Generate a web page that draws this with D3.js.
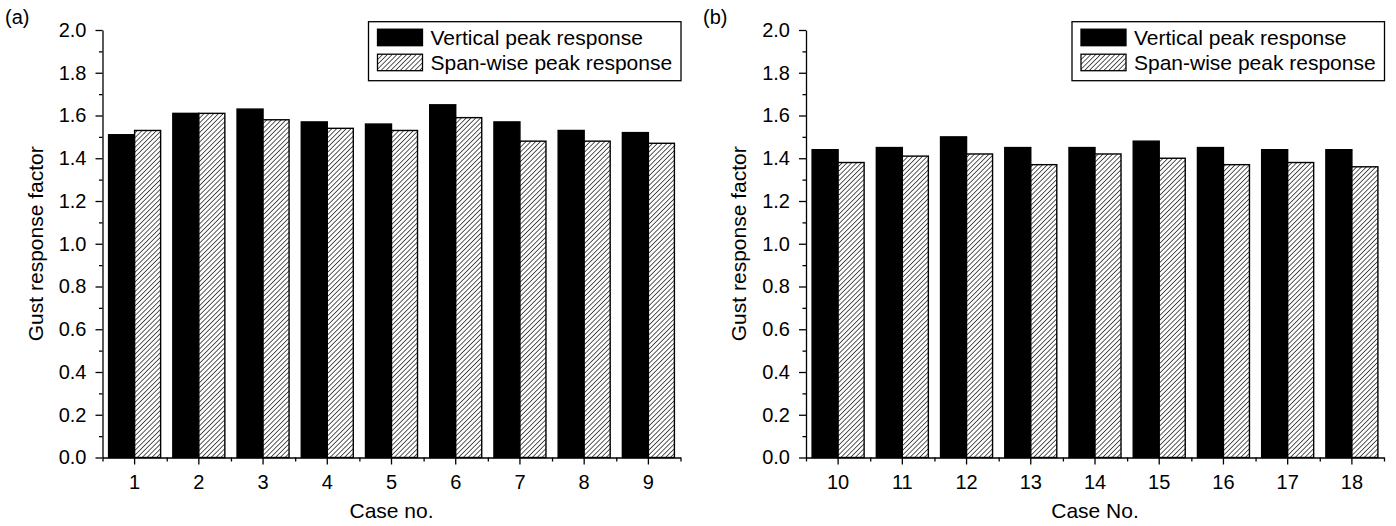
<!DOCTYPE html>
<html>
<head>
<meta charset="utf-8">
<script src="https://cdn.jsdelivr.net/npm/d3@7"></script>
<style>
  body { margin: 0; background: #fff; }
  svg text { font-family: "Liberation Sans", Arial, Helvetica, sans-serif; fill: #000; }
</style>
</head>
<body>
<svg id="chart"></svg>
<script>
// data
var seriesNames = ["Vertical peak response", "Span-wise peak response"];

var casesA = ["1", "2", "3", "4", "5", "6", "7", "8", "9"];
var verticalA = [1.51, 1.61, 1.63, 1.57, 1.56, 1.65, 1.57, 1.53, 1.52];
var spanwiseA = [1.53, 1.61, 1.58, 1.54, 1.53, 1.59, 1.48, 1.48, 1.47];

var casesB = ["10", "11", "12", "13", "14", "15", "16", "17", "18"];
var verticalB = [1.44, 1.45, 1.50, 1.45, 1.45, 1.48, 1.45, 1.44, 1.44];
var spanwiseB = [1.38, 1.41, 1.42, 1.37, 1.42, 1.40, 1.37, 1.38, 1.36];

var yTicks = [0.0, 0.2, 0.4, 0.6, 0.8, 1.0, 1.2, 1.4, 1.6, 1.8, 2.0];
var yMinorTicks = [0.1, 0.3, 0.5, 0.7, 0.9, 1.1, 1.3, 1.5, 1.7, 1.9];

var width = 1396, height = 526;

var svg = d3.select("#chart")
  .attr("width", width)
  .attr("height", height);

// hatch pattern  ////
svg.append("defs").append("pattern")
  .attr("id", "hatch")
  .attr("patternUnits", "userSpaceOnUse")
  .attr("width", 3.4)
  .attr("height", 3.4)
  .attr("patternTransform", "rotate(45)")
  .call(function (p) {
    p.append("rect").attr("width", 3.4).attr("height", 3.4).attr("fill", "#fff");
    p.append("line")
      .attr("x1", 0).attr("y1", 0).attr("x2", 0).attr("y2", 3.4)
      .attr("stroke", "#000").attr("stroke-width", 1.3);
  });

var fills = ["#000", "url(#hatch)"];

var y = d3.scaleLinear()
  .domain([0, 2])
  .range([457.5, 30]);

function drawPanel(opt) {
  var g = svg.append("g");

  var x = d3.scaleBand()
    .domain(opt.cases)
    .range([opt.x0, opt.x1])
    .paddingInner(0.19)
    .paddingOuter(0.095);

  var x1 = d3.scaleBand()
    .domain(d3.range(seriesNames.length))
    .range([0, x.bandwidth()]);

  // minor tick positions between the cases
  var xm = d3.scaleLinear()
    .domain([0, opt.cases.length])
    .range([opt.x0, opt.x1]);

  var rows = opt.cases.map(function (c, i) {
    return { c: c, v: [opt.vertical[i], opt.spanwise[i]] };
  });

  // bars
  var grp = g.selectAll(".grp")
    .data(rows)
    .enter().append("g")
    .attr("class", "grp")
    .attr("transform", function (d) { return "translate(" + x(d.c) + ",0)"; });

  grp.selectAll("rect")
    .data(function (d) { return d.v; })
    .enter().append("rect")
    .attr("x", function (d, i) { return x1(i); })
    .attr("y", function (d) { return y(d); })
    .attr("width", x1.bandwidth())
    .attr("height", function (d) { return y(0) - y(d); })
    .attr("fill", function (d, i) { return fills[i]; })
    .attr("stroke", "#000")
    .attr("stroke-width", 1.4);

  // y axis
  g.append("g")
    .attr("transform", "translate(" + opt.x0 + ",0)")
    .call(d3.axisLeft(y).tickValues(yMinorTicks).tickSize(3.5).tickFormat("").tickSizeOuter(0))
    .call(function (a) { a.select(".domain").remove(); });

  var ya = g.append("g")
    .attr("transform", "translate(" + opt.x0 + ",0)")
    .call(d3.axisLeft(y).tickValues(yTicks).tickSize(7).tickPadding(9).tickSizeOuter(0)
      .tickFormat(d3.format(".1f")));
  ya.selectAll("text").style("font-size", "20px");

  // x axis
  g.append("g")
    .attr("transform", "translate(0," + y(0) + ")")
    .call(d3.axisBottom(xm).tickValues(d3.range(opt.cases.length + 1)).tickSize(4).tickFormat("").tickSizeOuter(0))
    .call(function (a) { a.select(".domain").remove(); });

  var xa = g.append("g")
    .attr("transform", "translate(0," + y(0) + ")")
    .call(d3.axisBottom(x).tickSize(7).tickPadding(10.5).tickSizeOuter(0));
  xa.selectAll("text").style("font-size", "20px");

  svg.selectAll(".domain, .tick line")
    .attr("stroke", "#000")
    .attr("stroke-width", 1.3);

  // titles
  g.append("text")
    .attr("x", (opt.x0 + opt.x1) / 2)
    .attr("y", 518)
    .attr("text-anchor", "middle")
    .style("font-size", "21px")
    .text(opt.xTitle);

  g.append("text")
    .attr("transform", "translate(" + (opt.x0 - 60) + "," + (y(1)) + ") rotate(-90)")
    .attr("text-anchor", "middle")
    .style("font-size", "21px")
    .text("Gust response factor");

  g.append("text")
    .attr("x", opt.labelX)
    .attr("y", 24)
    .style("font-size", "20px")
    .text(opt.label);

  // legend
  var lg = g.append("g")
    .attr("transform", "translate(" + (opt.x1 - 312) + ",21.7)");

  lg.append("rect")
    .attr("width", 312.5)
    .attr("height", 59)
    .attr("fill", "#fff")
    .attr("stroke", "#000")
    .attr("stroke-width", 1.3);

  var item = lg.selectAll(".item")
    .data(seriesNames)
    .enter().append("g")
    .attr("class", "item")
    .attr("transform", function (d, i) { return "translate(9," + (7.5 + i * 25) + ")"; });

  item.append("rect")
    .attr("width", 45)
    .attr("height", 16.5)
    .attr("fill", function (d, i) { return fills[i]; })
    .attr("stroke", "#000")
    .attr("stroke-width", 1.3);

  item.append("text")
    .attr("x", 53)
    .attr("y", 15.8)
    .style("font-size", "21px")
    .text(function (d) { return d; });
}

drawPanel({
  cases: casesA, vertical: verticalA, spanwise: spanwiseA,
  x0: 102.5, x1: 680.5, label: "(a)", labelX: 5, xTitle: "Case no."
});

drawPanel({
  cases: casesB, vertical: verticalB, spanwise: spanwiseB,
  x0: 806, x1: 1384, label: "(b)", labelX: 703, xTitle: "Case No."
});
</script>
</body>
</html>
